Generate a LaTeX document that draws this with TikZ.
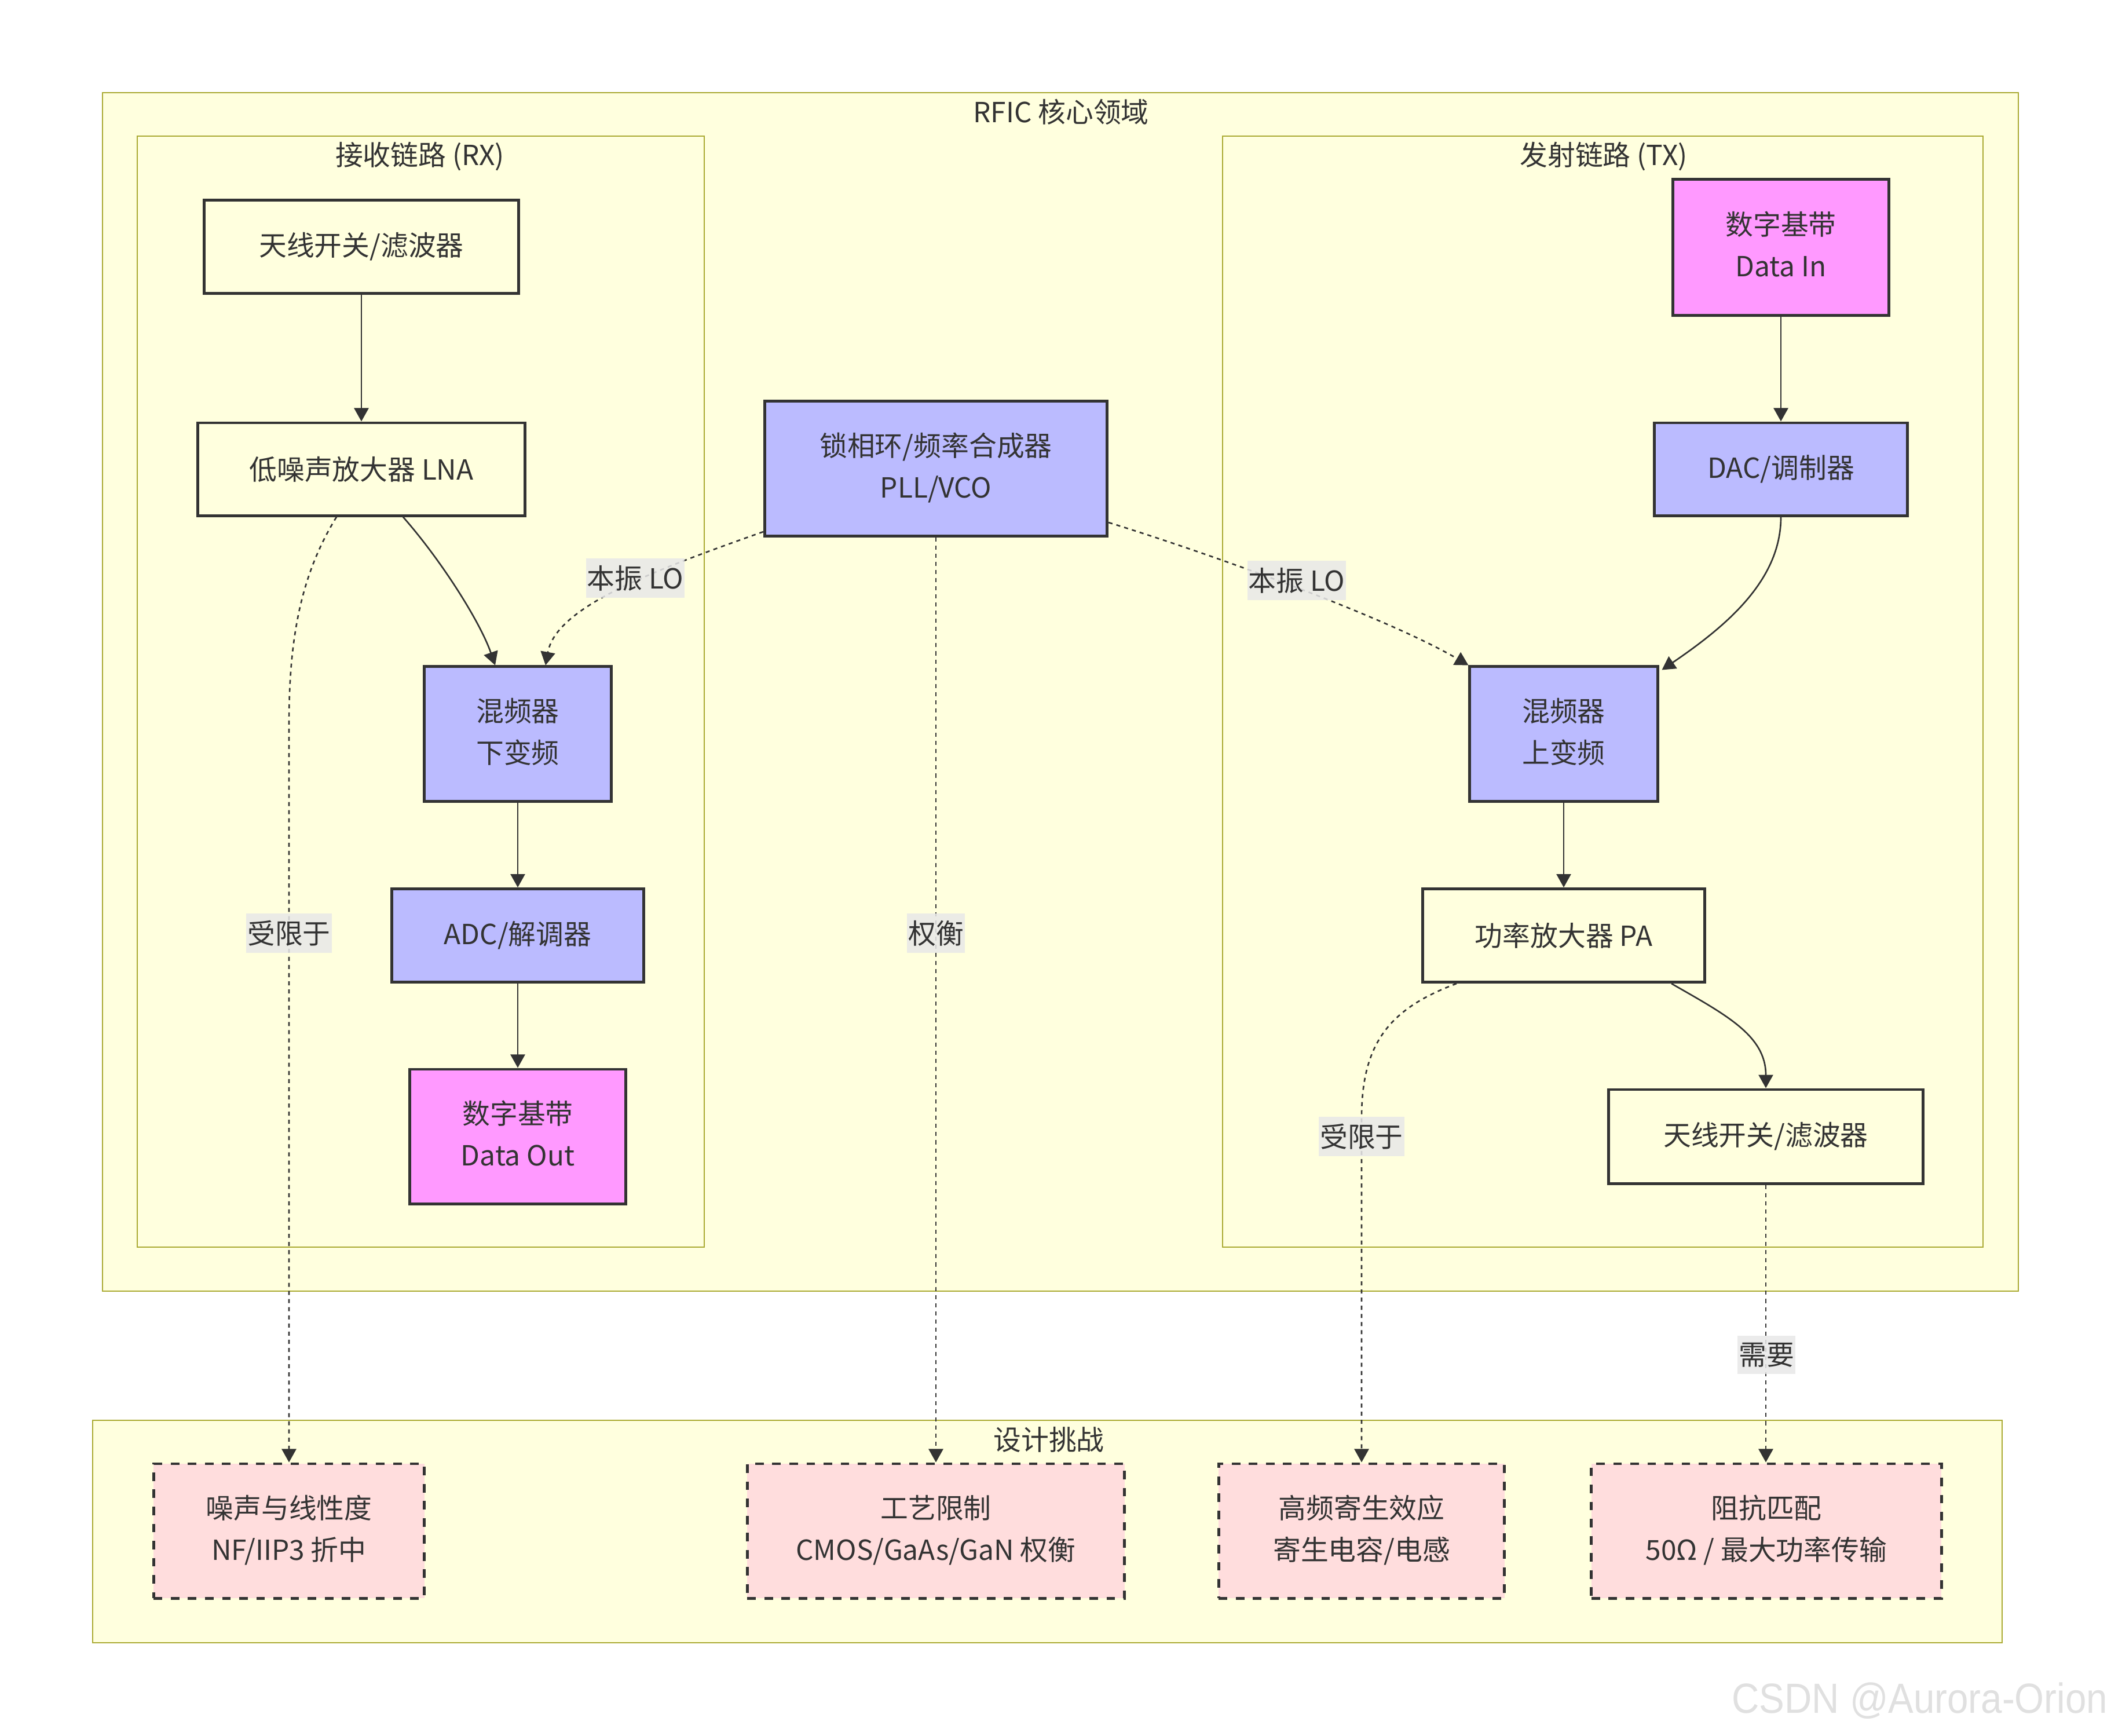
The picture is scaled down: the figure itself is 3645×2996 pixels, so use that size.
\documentclass[tikz,border=0pt]{standalone}
\usepackage{fontspec}
\setmainfont{Noto Sans CJK SC}
\newfontfamily\wmfont[FakeStretch=0.9]{Liberation Sans}
\usetikzlibrary{arrows.meta}
\definecolor{clfill}{HTML}{FFFFDE}
\definecolor{clline}{HTML}{AAAA33}
\definecolor{txt}{HTML}{333333}
\definecolor{purp}{HTML}{BBBBFF}
\definecolor{pinkf}{HTML}{FF99FF}
\definecolor{chal}{HTML}{FFDDDD}
\definecolor{lblbg}{HTML}{E8E8E8}
\definecolor{wm}{HTML}{E0E0E0}
\tikzset{
  cluster/.style={draw=clline, line width=0.75pt, fill=clfill},
  nd/.style={draw=txt, line width=1.4pt, align=center, inner sep=0pt, text=txt},
  sz/.style 2 args={minimum width=#1cm, minimum height=#2cm},
  twoline/.style={text depth=0.12cm},
  plainbox/.style={nd, fill=clfill},
  procbox/.style={nd, fill=purp},
  databox/.style={nd, fill=pinkf},
  chalbox/.style={nd, fill=chal, dash pattern=on 4.2pt off 4.2pt},
  ttl/.style={text=txt, inner sep=0pt},
  lbl/.style={fill=lblbg, fill opacity=0.85, text opacity=1, text=txt, inner xsep=0.02cm, inner ysep=0.12cm},
  edge/.style={draw=txt, line width=0.75pt, -{Triangle[length=0.23cm,width=0.25cm]}},
  dots/.style={edge, dash pattern=on 2pt off 2pt},
}
\begin{document}
\begin{tikzpicture}[x=0.01cm, y=-0.01cm, font=\fontsize{13.6pt}{20.5pt}\selectfont]
\fill[white] (0,0) rectangle (3645,2996);
\useasboundingbox (0,0) rectangle (3645,2996);

% clusters
\draw[cluster] (177,160) rectangle (3485,2229);
\draw[cluster] (237,235) rectangle (1216,2153);
\draw[cluster] (2111,235) rectangle (3424,2153);
\draw[cluster] (160,2452) rectangle (3457,2836);
\node[ttl] (trfic) at (1832,193) {RFIC 核心领域};
\node[ttl] (trx) at (725,270) {接收链路 (RX)};
\node[ttl] (ttx) at (2769,270) {发射链路 (TX)};
\node[ttl] (tch) at (1811,2485) {设计挑战};

% RX chain
\node[plainbox, sz={5.42}{1.61}] (antrx) at (624,426) {天线开关/滤波器};
\node[plainbox, sz={5.65}{1.60}] (lna) at (624,810) {低噪声放大器 LNA};
\node[procbox, twoline, sz={3.23}{2.32}] (mixdn) at (894,1267) {混频器\\下变频};
\node[procbox, sz={4.35}{1.61}] (adc) at (894,1615) {ADC/解调器};
\node[databox, twoline, sz={3.72}{2.32}] (dout) at (894,1962) {数字基带\\Data Out};

% PLL
\node[procbox, twoline, sz={5.91}{2.32}] (pll) at (1616,809) {锁相环/频率合成器\\PLL/VCO};

% TX chain
\node[databox, twoline, sz={3.72}{2.34}] (din) at (3075,427) {数字基带\\Data In};
\node[procbox, sz={4.37}{1.60}] (dac) at (3075,810) {DAC/调制器};
\node[procbox, twoline, sz={3.24}{2.32}] (mixup) at (2700,1267) {混频器\\上变频};
\node[plainbox, sz={4.86}{1.61}] (pa) at (2700,1615) {功率放大器 PA};
\node[plainbox, sz={5.42}{1.62}] (anttx) at (3049,1962) {天线开关/滤波器};

% challenges
\node[chalbox, twoline, sz={4.67}{2.32}] (c1) at (499,2643) {噪声与线性度\\NF/IIP3 折中};
\node[chalbox, twoline, sz={6.51}{2.32}] (c2) at (1616,2643) {工艺限制\\CMOS/GaAs/GaN 权衡};
\node[chalbox, twoline, sz={4.93}{2.32}] (c3) at (2351,2643) {高频寄生效应\\寄生电容/电感};
\node[chalbox, twoline, sz={6.04}{2.32}] (c4) at (3050,2643) {阻抗匹配\\50Ω / 最大功率传输};

% solid edges
\draw[edge] (antrx.south) -- (lna.north);
\draw[edge] ([shift={(72,0)}]lna.south) .. controls +(66,75) and +(-26,-75) .. ([shift={(-39,0)}]mixdn.north);
\draw[edge] (mixdn.south) -- (adc.north);
\draw[edge] (adc.south) -- (dout.north);
\draw[edge] (din.south) -- (dac.north);
\draw[edge] (dac.south) .. controls +(0,110) and +(110,-75) .. ([shift={(5,8)}]mixup.north east);
\draw[edge] (mixup.south) -- (pa.north);
\draw[edge] ([shift={(186,0)}]pa.south) .. controls +(94,54) and +(0,-91) .. (anttx.north);

% dotted edges
\draw[dots] ([shift={(0,109)}]pll.west) .. controls +(-190,67) and +(18,-101) .. ([shift={(48,0)}]mixdn.north);
\draw[dots] ([shift={(0,93)}]pll.east) .. controls +(188,58) and +(-138,-81) .. (mixup.north west);
\draw[dots] ([shift={(-43,0)}]lna.south) .. controls +(-61,99) and +(0,-150) .. (c1.north |- 0,1250) -- (c1.north);
\draw[dots] (pll.south) -- (c2.north);
\draw[dots] ([shift={(-185,0)}]pa.south) .. controls +(-115,43) and +(0,-130) .. (c3.north |- 0,1930) -- (c3.north);
\draw[dots] (anttx.south) -- (anttx.south |- c4.north);

% edge labels
\node[lbl] (lo1) at (1097,998) {本振 LO};
\node[lbl] (lo2) at (2239,1002) {本振 LO};
\node[lbl] (lim1) at (499,1611) {受限于};
\node[lbl] (trade) at (1616,1611) {权衡};
\node[lbl] (lim2) at (2351,1962) {受限于};
\node[lbl] (need) at (3050,2339) {需要};

% watermark
\node[anchor=east, inner sep=0pt, text=wm, font=\wmfont\fontsize{20.7pt}{24pt}\selectfont] (wmk) at (3640,2936) {CSDN @Aurora-Orion};
\end{tikzpicture}
\end{document}
